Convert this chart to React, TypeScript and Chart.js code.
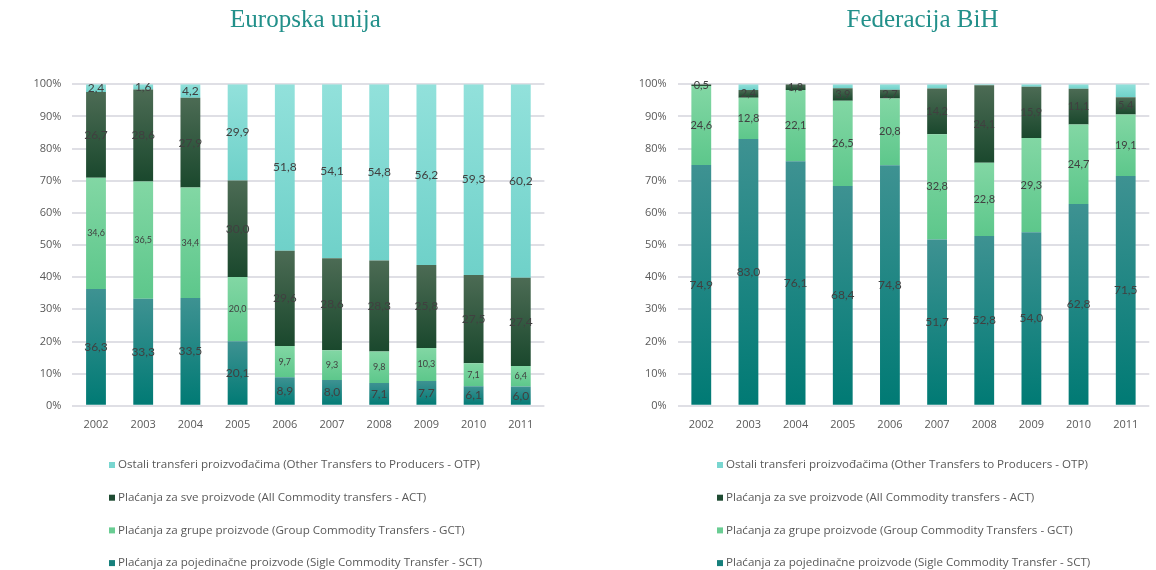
import React, { useEffect, useRef } from 'react';
import { Chart, registerables } from 'chart.js';

Chart.register(...registerables);
Chart.defaults.font.family = '"Open Sans", Lato, sans-serif';

// ---------- data ----------
const years = ['2002', '2003', '2004', '2005', '2006', '2007', '2008', '2009', '2010', '2011'];

const euSCT = [36.3, 33.3, 33.5, 20.1, 8.9, 8.0, 7.1, 7.7, 6.1, 6.0];
const euGCT = [34.6, 36.5, 34.4, 20.0, 9.7, 9.3, 9.8, 10.3, 7.1, 6.4];
const euACT = [26.7, 28.6, 27.9, 30.0, 29.6, 28.6, 28.3, 25.8, 27.5, 27.4];
const euOTP = [2.4, 1.6, 4.2, 29.9, 51.8, 54.1, 54.8, 56.2, 59.3, 60.2];

const bihSCT = [74.9, 83.0, 76.1, 68.4, 74.8, 51.7, 52.8, 54.0, 62.8, 71.5];
const bihGCT = [24.6, 12.8, 22.1, 26.5, 20.8, 32.8, 22.8, 29.3, 24.7, 19.1];
const bihACT = [0.5, 2.4, 1.8, 3.9, 2.7, 14.2, 24.1, 15.9, 11.1, 5.4];
const bihOTP = [0, 1.8, 0, 1.2, 1.7, 1.3, 0.3, 0.8, 1.4, 4.0];

const yTickValues = [0, 10, 20, 30, 40, 50, 60, 70, 80, 90, 100];

const nameSCT = 'Plaćanja za pojedinačne proizvode (Sigle Commodity Transfer - SCT)';
const nameGCT = 'Plaćanja za grupe proizvode (Group Commodity Transfers - GCT)';
const nameACT = 'Plaćanja za sve proizvode (All Commodity transfers - ACT)';
const nameOTP = 'Ostali transferi proizvođačima (Other Transfers to Producers - OTP)';

const titleEU = 'Europska unija';
const titleBiH = 'Federacija BiH';

// ---------- styles ----------
const gradSCT = ['#3e9292', '#007a74'];
const gradGCT = ['#82d7a4', '#5dc78b'];
const gradACT = ['#4c6b54', '#1a482d'];
const gradOTP = ['#92e1db', '#6fd1c9'];
const legendColors = ['#17807c', '#6acd93', '#1f4b32', '#79d6d0'];

function segmentFill(grad: string[]) {
  return (c: any) => {
    const chart = c.chart;
    const ys = chart.scales && chart.scales.y;
    if (c.type !== 'data' || !ys || !chart.chartArea) return grad[1];
    const i = c.dataIndex;
    const di = c.datasetIndex;
    let start = 0;
    for (let k = 0; k < di; k++) start += Number(chart.data.datasets[k].data[i]) || 0;
    const end = start + (Number(chart.data.datasets[di].data[i]) || 0);
    const yb = ys.getPixelForValue(start);
    const yt = ys.getPixelForValue(end);
    if (!isFinite(yb) || !isFinite(yt) || Math.abs(yb - yt) < 0.5) return grad[1];
    const g = chart.ctx.createLinearGradient(0, yt, 0, yb);
    g.addColorStop(0, grad[0]);
    g.addColorStop(1, grad[1]);
    return g;
  };
}

const valueLabelPlugin = {
  id: 'valueLabels',
  afterDatasetsDraw(chart: any, _args: any, opts: any) {
    const ctx = chart.ctx;
    chart.data.datasets.forEach((ds: any, di: number) => {
      const size = opts.sizes[di];
      if (!size) return;
      const meta = chart.getDatasetMeta(di);
      ctx.save();
      ctx.font = `${size}px Lato, "Open Sans", sans-serif`;
      ctx.fillStyle = '#404040';
      ctx.textAlign = 'center';
      ctx.textBaseline = 'middle';
      meta.data.forEach((el: any, i: number) => {
        const v = ds.data[i];
        if (!v) return;
        const p = el.getProps(['x', 'y', 'base'], true);
        ctx.fillText(v.toFixed(1).replace('.', ','), p.x, (p.y + p.base) / 2);
      });
      ctx.restore();
    });
  },
};

const sideLegendPlugin = {
  id: 'sideLegend',
  afterDraw(chart: any, _args: any, opts: any) {
    const ctx = chart.ctx;
    ctx.save();
    ctx.font = '11.6px "Open Sans", Lato, sans-serif';
    ctx.textBaseline = 'middle';
    ctx.textAlign = 'left';
    const dsList = chart.data.datasets.slice().reverse();
    dsList.forEach((ds: any, k: number) => {
      const y = opts.top + k * opts.step;
      ctx.fillStyle = ds.legendColor;
      ctx.fillRect(opts.x, y - 3, 6, 6);
      ctx.fillStyle = '#595959';
      ctx.fillText(ds.label, opts.x + 9, y);
    });
    ctx.restore();
  },
};

const titleShiftPlugin = {
  id: 'titleShift',
  afterLayout(chart: any, _args: any, opts: any) {
    const t = chart.titleBlock;
    if (t && opts.dx) {
      t.left += opts.dx;
      t.right += opts.dx;
    }
  },
};

type Props = {
  title: string;
  sct: number[];
  gct: number[];
  act: number[];
  otp: number[];
  labelSizes: number[];
  padLeft: number;
  padRight: number;
  titleDx: number;
  legendX: number;
};

function StackChart(props: Props) {
  const ref = useRef<HTMLCanvasElement>(null);
  useEffect(() => {
    if (!ref.current) return;
    const mk = (label: string, data: number[], grad: string[], lc: string) => ({
      label,
      data,
      backgroundColor: segmentFill(grad),
      borderWidth: 0,
      categoryPercentage: 1,
      barPercentage: 0.42,
      legendColor: lc,
    });
    const chart = new Chart(ref.current, {
      type: 'bar',
      data: {
        labels: years,
        datasets: [
          mk(nameSCT, props.sct, gradSCT, legendColors[0]),
          mk(nameGCT, props.gct, gradGCT, legendColors[1]),
          mk(nameACT, props.act, gradACT, legendColors[2]),
          mk(nameOTP, props.otp, gradOTP, legendColors[3]),
        ] as any,
      },
      options: {
        responsive: false,
        animation: false,
        events: [],
        layout: { padding: { left: props.padLeft, right: props.padRight, top: 0, bottom: 127 } },
        scales: {
          x: {
            stacked: true,
            grid: { display: false, drawTicks: false },
            border: { display: false },
            ticks: { color: '#595959', font: { size: 11 }, padding: 12 },
          },
          y: {
            stacked: true,
            min: 0,
            max: 100,
            afterFit: (s: any) => {
              s.width = 40;
            },
            afterBuildTicks: (s: any) => {
              s.ticks = yTickValues.map((v) => ({ value: v }));
            },
            grid: { color: '#dfdfe5', lineWidth: 2, drawTicks: false },
            border: { display: false },
            ticks: {
              color: '#595959',
              font: { size: 11 },
              padding: 11,
              callback: (v: any) => `${v}%`,
            },
          },
        },
        plugins: {
          legend: { display: false },
          tooltip: { enabled: false },
          title: {
            display: true,
            text: props.title,
            color: '#22908a',
            font: { family: '"Liberation Serif", "DejaVu Serif", serif', size: 25, weight: 'normal' },
            padding: { top: 5, bottom: 49.3 },
          },
          valueLabels: { sizes: props.labelSizes },
          sideLegend: { x: props.legendX, top: 465, step: 32.7 },
          titleShift: { dx: props.titleDx },
        } as any,
      },
      plugins: [valueLabelPlugin, sideLegendPlugin, titleShiftPlugin],
    });
    return () => chart.destroy();
  }, []);
  return (
    <canvas
      ref={ref}
      width={578}
      height={570}
      style={{ display: 'block', width: 578, height: 570 }}
    />
  );
}

export default function App() {
  return (
    <div
      style={{
        position: 'absolute',
        left: 0,
        top: 0,
        width: 1156,
        height: 570,
        display: 'flex',
        background: '#ffffff',
      }}
    >
      <StackChart
        title={titleEU}
        sct={euSCT}
        gct={euGCT}
        act={euACT}
        otp={euOTP}
        labelSizes={[12, 9, 12, 12]}
        padLeft={32.4}
        padRight={33.6}
        titleDx={17}
        legendX={109}
      />
      <StackChart
        title={titleBiH}
        sct={bihSCT}
        gct={bihGCT}
        act={bihACT}
        otp={bihOTP}
        labelSizes={[12, 11, 11, 0]}
        padLeft={59.7}
        padRight={6.7}
        titleDx={29}
        legendX={139}
      />
    </div>
  );
}
